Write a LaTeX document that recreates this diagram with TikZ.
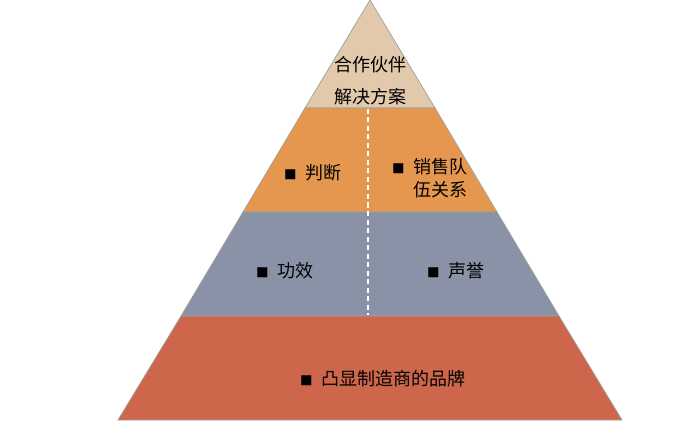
\documentclass[tikz,border=0pt]{standalone}
\usepackage{fontspec}
\newfontfamily\cjk{Noto Sans CJK SC}
\usetikzlibrary{positioning, calc}

\definecolor{tanTop}{HTML}{E2C9AB}
\definecolor{orangeMid}{HTML}{E6974F}
\definecolor{slateMid}{HTML}{8992A6}
\definecolor{rustBase}{HTML}{CD664B}

\tikzset{
    layer/.style={draw=gray!75, line width=0.7pt, line join=miter},
    splitline/.style={draw=white, line width=1.6pt, dash pattern=on 5pt off 3.5pt},
    cjktext/.style={font=\cjk\fontsize{18}{23}\selectfont, align=left, inner sep=0pt, text=black}
}
\newcommand{\sqb}{\makebox[21pt][l]{\raisebox{0.6pt}{\fontsize{12.5}{12.5}\selectfont ■}}}

\begin{document}
\begin{tikzpicture}[x=1pt, y=-1pt]
    \useasboundingbox (0,0) rectangle (700,430);
    % pyramid layers
    \coordinate (apex) at (370,0);
    \coordinate (l1) at (305,108);  \coordinate (r1) at (435,108);
    \coordinate (l2) at (243,212);  \coordinate (r2) at (497,212);
    \coordinate (l3) at (181,316);  \coordinate (r3) at (559,316);
    \coordinate (l4) at (118,420);  \coordinate (r4) at (622,420);
    \filldraw[layer, fill=tanTop] (apex) -- (r1) -- (l1) -- cycle;
    \filldraw[layer, fill=orangeMid] (l1) -- (r1) -- (r2) -- (l2) -- cycle;
    \filldraw[layer, fill=slateMid] (l2) -- (r2) -- (r3) -- (l3) -- cycle;
    \filldraw[layer, fill=rustBase] (l3) -- (r3) -- (r4) -- (l4) -- cycle;
    \coordinate (cut1) at (368,109);
    \coordinate (cut2) at (368,315);
    \draw[splitline] (cut1) -- (cut2);
    % texts
    \node[cjktext] (partner) at (370,65) {合作伙伴};
    \node[cjktext] (solution) at (370,97) {解决方案};
    \node[cjktext, anchor=west] (judge) at (284,173) {\sqb 判断};
    \node[cjktext, anchor=west] (sales) at (392,178.5) {\sqb 销售队\\\phantom{\sqb}伍关系};
    \node[cjktext, anchor=west] (effect) at (256,271) {\sqb 功效};
    \node[cjktext, anchor=west] (fame) at (427,271) {\sqb 声誉};
    \node[cjktext, anchor=west] (brand) at (300,379) {\sqb 凸显制造商的品牌};
\end{tikzpicture}
\end{document}
